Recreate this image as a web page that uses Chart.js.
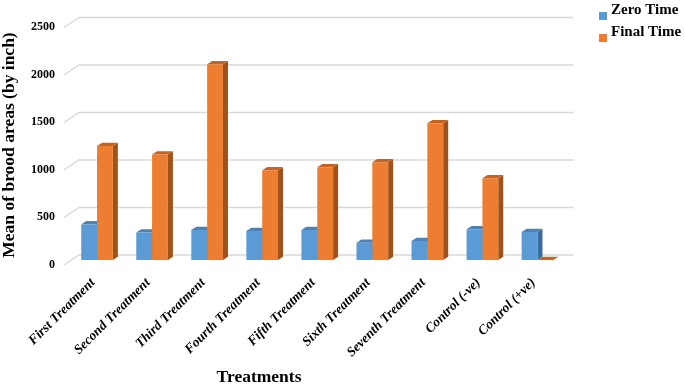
<!DOCTYPE html>
<html><head><meta charset="utf-8">
<script src="https://cdn.jsdelivr.net/npm/chart.js@4.4.0/dist/chart.umd.min.js"></script>
<style>html,body{margin:0;padding:0;background:#fff;}#wrap{width:685px;height:385px;}</style>
</head><body><div id="wrap"><canvas id="c" width="685" height="385"></canvas></div>
<script>
const categories = ['First Treatment','Second Treatment','Third Treatment','Fourth Treatment','Fifth Treatment','Sixth Treatment','Seventh Treatment','Control (-ve)','Control (+ve)'];
const zeroTime = [375, 290, 316, 305, 315, 182, 200, 323, 295];
const finalTime = [1200, 1110, 2060, 945, 976, 1028, 1439, 860, 0];
const seriesNames = ['Zero Time', 'Final Time'];
const yTicks = [0, 500, 1000, 1500, 2000, 2500];
const yTitle = 'Mean of brood areas (by inch)';
const xTitle = 'Treatments';

const DX = 5, DY = -3.3;
const SERIF = '"Liberation Serif", "Times New Roman", serif';

function poly(ctx, pts){ctx.beginPath();ctx.moveTo(pts[0][0],pts[0][1]);for(let i=1;i<pts.length;i++)ctx.lineTo(pts[i][0],pts[i][1]);ctx.closePath();ctx.fill();}

const threeD = {
  id: 'threeD',
  beforeDatasetsDraw(chart){
    const ctx = chart.ctx, ys = chart.scales.y, a = chart.chartArea;
    ctx.save();
    ctx.strokeStyle = '#d9d9d9'; ctx.lineWidth = 1.5;
    yTicks.forEach(v => {
      const y = ys.getPixelForValue(v);
      ctx.beginPath(); ctx.moveTo(a.left - 5.5, y + 5); ctx.lineTo(a.left + 9.5, y - 5); ctx.lineTo(a.right + 8.5, y - 5); ctx.stroke();
    });
    chart.data.datasets.forEach((ds, i) => {
      const meta = chart.getDatasetMeta(i);
      meta.data.forEach(bar => {
        const p = bar.getProps(['x','y','base','width'], true);
        const l = p.x - p.width/2, r = p.x + p.width/2;
        ctx.fillStyle = ds.sideColor;
        poly(ctx, [[r,p.y],[r+DX,p.y+DY],[r+DX,p.base+DY],[r,p.base]]);
        ctx.fillStyle = ds.topColor;
        poly(ctx, [[l,p.y],[l+DX,p.y+DY],[r+DX,p.y+DY],[r,p.y]]);
      });
    });
    ctx.restore();
  },
  afterDraw(chart){
    const ctx = chart.ctx;
    ctx.save();
    ctx.font = 'bold 15px ' + SERIF;
    ctx.textBaseline = 'alphabetic'; ctx.textAlign = 'left';
    chart.data.datasets.forEach((ds, i) => {
      const base = 13.5 + i*22;
      ctx.fillStyle = ds.backgroundColor;
      ctx.fillRect(599, base - 1.5, 8, 8);
      ctx.fillStyle = '#000';
      ctx.fillText(ds.label, 611, base);
    });
    ctx.font = 'bold 17.5px ' + SERIF;
    ctx.textAlign = 'center'; ctx.textBaseline = 'middle'; ctx.fillStyle = '#000';
    ctx.fillText(xTitle, 259, 377);
    ctx.translate(9, 145); ctx.rotate(-Math.PI/2);
    ctx.fillText(yTitle, 0, 0);
    ctx.restore();
  }
};

new Chart(document.getElementById('c'), {
  type: 'bar',
  data: {
    labels: categories,
    datasets: [
      {label: seriesNames[0], data: zeroTime, backgroundColor: '#5b9bd5', topColor: '#4a82b9', sideColor: '#3b6c9c', barPercentage: 1, categoryPercentage: 0.575},
      {label: seriesNames[1], data: finalTime, backgroundColor: '#ed7d31', topColor: '#c8631f', sideColor: '#a0521b', barPercentage: 1, categoryPercentage: 0.575}
    ]
  },
  options: {
    responsive: false, animation: false, devicePixelRatio: 1,
    layout: {padding: {top: 22.5, right: 120, left: 0, bottom: 0}},
    plugins: {legend: {display: false}, tooltip: {enabled: false}, title: {display: false}},
    scales: {
      x: {
        grid: {display: false, drawTicks: false, tickLength: 0}, border: {display: false},
        ticks: {minRotation: 45, maxRotation: 45, autoSkip: false, padding: 15, labelOffset: -4, color: '#000', font: {family: SERIF, size: 13.5, weight: 'bold', style: 'italic'}},
        afterFit(s){ s.height = 125; }
      },
      y: {
        min: 0, max: 2500,
        grid: {display: false, drawTicks: false, tickLength: 0}, border: {display: false},
        ticks: {stepSize: 500, padding: 14.5, labelOffset: 4.5, color: '#000', font: {family: SERIF, size: 12, weight: 'bold'},
          callback: (v) => String(v)},
        afterFit(s){ s.width = 69.5; }
      }
    }
  },
  plugins: [threeD]
});
</script></body></html>
